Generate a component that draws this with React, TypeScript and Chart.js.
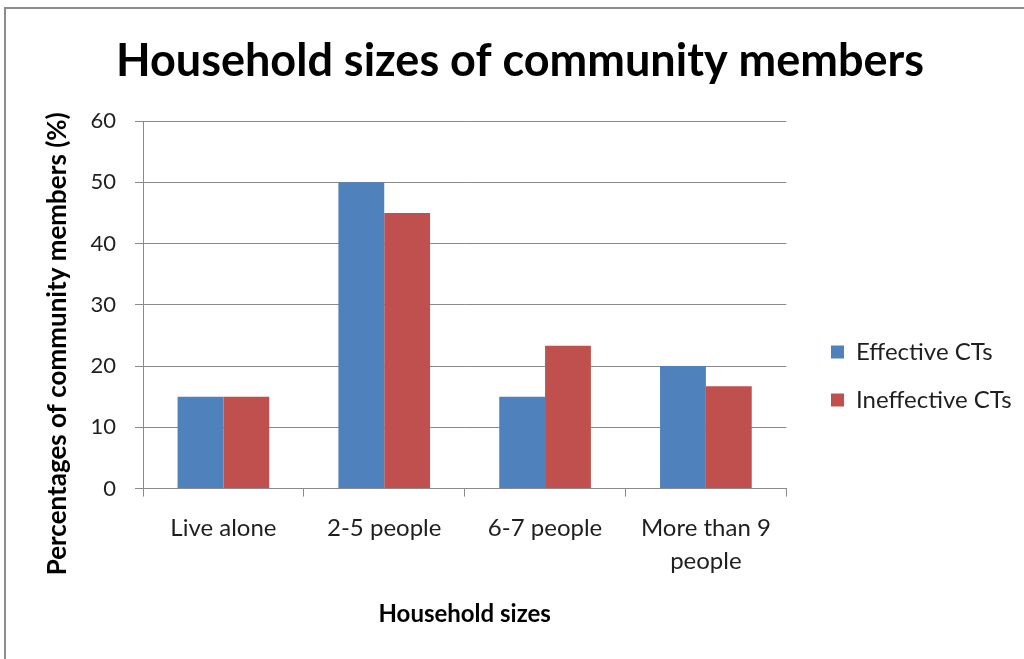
import React, { useEffect, useRef } from "react";
import { Chart, registerables } from "chart.js";

Chart.register(...registerables);

const chartTitle = "Household sizes of community members";
const xAxisTitle = "Household sizes";
const yAxisTitle = "Percentages of community members (%)";
const categories: (string | string[])[] = ["Live alone", "2-5 people", "6-7 people", ["More than 9", "people"]];
const seriesNames = ["Effective CTs", "Ineffective CTs"];
const effectiveCTs = [15, 50, 15, 20];
const ineffectiveCTs = [15, 45, 23.3, 16.7];
const yMin = 0;
const yMax = 60;
const yStep = 10;

const FONT = "Lato, 'Open Sans', sans-serif";
const GRID = "#8a8a8a";
const TEXT = "#1f1f1f";

const framePlugin = {
  id: "frame",
  beforeDraw(chart: any) {
    const ctx = chart.ctx;
    ctx.save();
    ctx.fillStyle = "#ffffff";
    ctx.fillRect(0, 0, chart.width, chart.height);
    ctx.strokeStyle = "#8c8c8c";
    ctx.lineWidth = 2;
    ctx.strokeRect(5, 8, chart.width + 40, chart.height + 40);
    ctx.restore();
  },
};

const legendPlace = {
  id: "legendPlace",
  afterLayout(chart: any) {
    const lg = chart.legend;
    if (!lg) return;
    const pad = lg.options.labels.padding;
    const fs = lg.options.labels.font.size;
    const n = chart.data.datasets.length;
    const colH = n * (fs + pad);
    const startY = (lg.top + pad + lg.bottom - colH) / 2;
    const curCenter = startY + fs / 2;
    const dy = 352 - curCenter;
    const dx = 831 - (lg.left + pad);
    lg.left += dx;
    lg.right += dx;
    lg.top += dy;
    lg.bottom += dy;
  },
};

const yTitlePlugin = {
  id: "yTitle",
  afterDraw(chart: any) {
    const ctx = chart.ctx;
    const ca = chart.chartArea;
    ctx.save();
    ctx.translate(58, (ca.top + ca.bottom) / 2 + 39);
    ctx.rotate(-Math.PI / 2);
    ctx.font = `bold 26px ${FONT}`;
    ctx.textAlign = "center";
    ctx.textBaseline = "middle";
    ctx.fillStyle = "#000000";
    ctx.fillText(yAxisTitle, 0, 0);
    ctx.restore();
  },
};

export default function App() {
  const ref = useRef<HTMLCanvasElement | null>(null);

  useEffect(() => {
    if (!ref.current) return;
    const LEFT = 39;
    const chart = new Chart(ref.current, {
      type: "bar",
      data: {
        labels: categories as any,
        datasets: [
          {
            label: seriesNames[0],
            data: effectiveCTs,
            backgroundColor: "#4F81BD",
            categoryPercentage: 0.57,
            barPercentage: 1.0,
          },
          {
            label: seriesNames[1],
            data: ineffectiveCTs,
            backgroundColor: "#C0504D",
            categoryPercentage: 0.57,
            barPercentage: 1.0,
          },
        ],
      },
      options: {
        responsive: false,
        animation: false,
        devicePixelRatio: 1,
        layout: { padding: { left: LEFT, right: 23, top: 0, bottom: 30 } },
        plugins: {
          title: {
            display: true,
            text: chartTitle,
            color: "#000000",
            font: { family: FONT, size: 45, weight: "bold" },
            padding: { top: 34, bottom: 33 },
          },
          legend: {
            display: true,
            position: "right",
            labels: {
              boxWidth: 13,
              boxHeight: 13,
              padding: 24,
              color: TEXT,
              font: { family: FONT, size: 24 },
            },
          },
          tooltip: { enabled: false },
        },
        scales: {
          x: {
            grid: {
              display: true,
              drawOnChartArea: false,
              drawTicks: true,
              tickLength: 8,
              color: GRID,
              offset: true,
            },
            border: { display: true, color: GRID },
            ticks: {
              color: TEXT,
              padding: 15,
              maxRotation: 0,
              autoSkip: false,
              font: { family: FONT, size: 24, lineHeight: 1.375 },
            },
            title: {
              display: true,
              text: xAxisTitle,
              color: "#000000",
              font: { family: FONT, size: 24, weight: "bold" },
              padding: { top: 7.6, bottom: 0 },
            },
          },
          y: {
            min: yMin,
            max: yMax,
            grid: {
              color: GRID,
              tickLength: 8,
              drawTicks: true,
            },
            border: { display: true, color: GRID },
            ticks: {
              stepSize: yStep,
              color: TEXT,
              padding: 19,
              font: { family: FONT, size: 22 },
            },
            afterFit(scale: any) {
              scale.width = 143 - LEFT;
            },
          },
        },
      },
      plugins: [framePlugin, legendPlace, yTitlePlugin],
    });
    return () => chart.destroy();
  }, []);

  return (
    <div style={{ position: "fixed", left: 0, top: 0, width: 1024, height: 659, background: "#fff" }}>
      <canvas ref={ref} width={1024} height={659} style={{ display: "block" }} />
    </div>
  );
}
